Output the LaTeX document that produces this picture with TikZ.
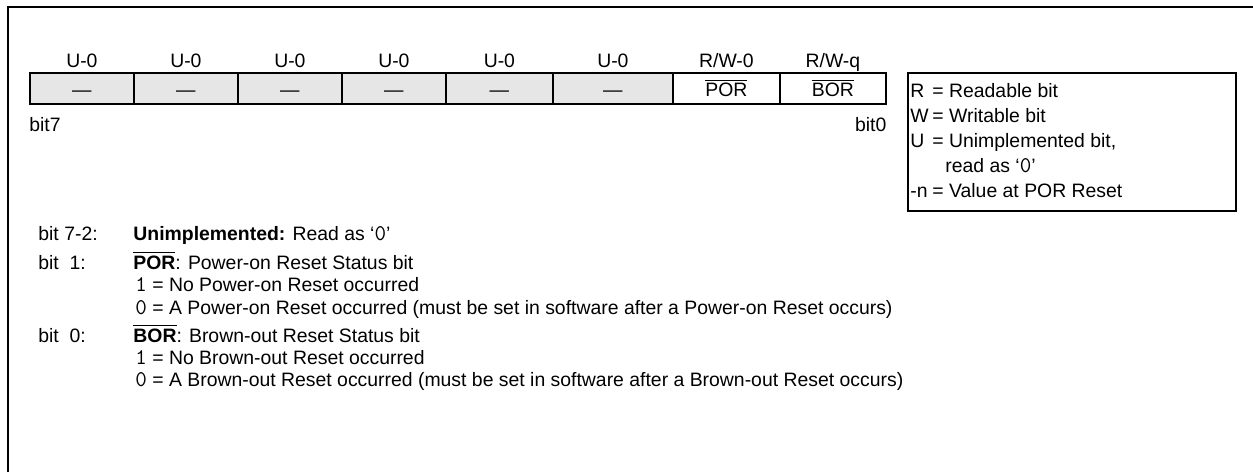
\documentclass[tikz,border=0pt]{standalone}
\usepackage{fontspec}
\setmainfont{Liberation Sans}
\usetikzlibrary{positioning}

\definecolor{regshade}{HTML}{E6E6E6}
\newcommand{\barsig}[1]{$\overline{\mbox{#1}}$}
\newcommand{\val}[1]{{\fontsize{11.2}{12}\selectfont\texttt{#1}}}

\begin{document}
\begin{tikzpicture}[x=0.5pt,y=-0.5pt,
		font=\fontsize{9.7}{12}\selectfont,
		cell/.style={draw,line width=0.9pt,anchor=north west,inner sep=0pt,
			minimum height=15.5pt,text height=8pt,text depth=0pt},
		txt/.style={anchor=base west,inner sep=0pt},
		txtr/.style={anchor=base east,inner sep=0pt},
		acc/.style={anchor=base,inner sep=0pt}]
		
		\useasboundingbox (0,0) rectangle (1253,472);
		
		% frame
		\coordinate (fbl) at (8,472);
		\coordinate (ftl) at (8,7);
		\coordinate (ftr) at (1253,7);
		\draw[line width=1.4pt] (fbl) -- (ftl) -- (ftr);
		
		% register cells
		\foreach \name/\xl/\xr/\acc/\txt/\shade in {7/29/133/U-0/---/regshade,
			6/133/237/U-0/---/regshade, 5/237/341/U-0/---/regshade,
			4/341/445/U-0/---/regshade, 3/445/552/U-0/---/regshade,
			2/552/672/U-0/---/regshade, 1/672/779/{R/W-0}/{\barsig{POR}}/white,
			0/779/885/{R/W-q}/{\barsig{BOR}}/white}
		{
			\node[cell,fill=\shade,minimum width=(\xr-\xl)*0.5pt] (b\name) at (\xl,72) {\txt};
			\node[acc] (a\name) at ([yshift=2.5pt]b\name.north) {\acc};
		}
		
		% bit numbers
		\node[txt] (lsb7) at ([yshift=-13.5pt]b7.south west) {bit7};
		\node[txtr] (lsb0) at ([yshift=-13.5pt]b0.south east) {bit0};
		
		% legend
		\node[draw,line width=0.9pt,anchor=north west,inner sep=0pt,
			minimum width=164pt,minimum height=69pt] (legend) at (907,72) {};
		\node[txt] (kR) at (910,97) {R};
		\node[txt] (tR) at (932,97) {= Readable bit};
		\node[txt] (kW) at (910,122) {W};
		\node[txt] (tW) at (932,122) {= Writable bit};
		\node[txt] (kU) at (910,147) {U};
		\node[txt] (tU) at (932,147) {= Unimplemented bit,};
		\node[txt] (tU2) at (945,172) {read as `\val{0}'};
		\node[txt] (kn) at (910,197) {-n};
		\node[txt] (tn) at (932,197) {= Value at POR Reset};
		
		% bit descriptions
		\node[txt] (d72) at (38,240) {bit 7-2:};
		\node[txt] (u72) at (133,240) {\textbf{Unimplemented:} Read as `\val{0}'};
		
		\node[txt] (d1) at (38,269) {bit\ \ 1:};
		\node[txt] (u1) at (133,269) {\barsig{\textbf{POR}}: Power-on Reset Status bit};
		\node[txt] (u1a) at (135,291) {\val{1} = No Power-on Reset occurred};
		\node[txt] (u1b) at (135,314) {\val{0} = A Power-on Reset occurred (must be set in software after a Power-on Reset occurs)};
		
		\node[txt] (d0) at (38,342) {bit\ \ 0:};
		\node[txt] (u0) at (133,342) {\barsig{\textbf{BOR}}: Brown-out Reset Status bit};
		\node[txt] (u0a) at (135,364) {\val{1} = No Brown-out Reset occurred};
		\node[txt] (u0b) at (135,386) {\val{0} = A Brown-out Reset occurred (must be set in software after a Brown-out Reset occurs)};
		
	\end{tikzpicture}
\end{document}
